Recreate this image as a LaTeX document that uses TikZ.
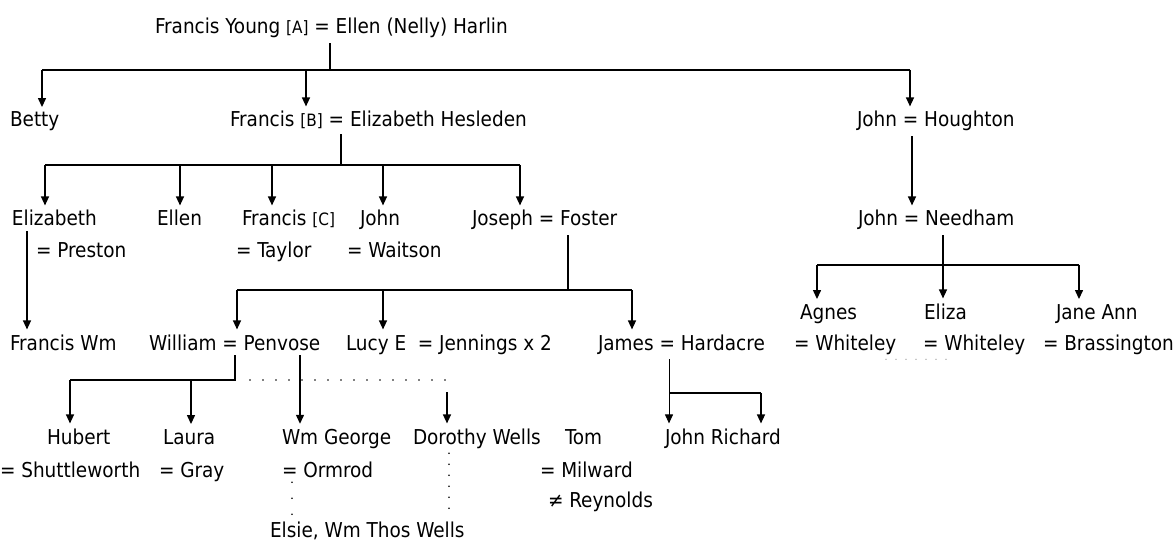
\documentclass[tikz,border=0pt]{standalone}
\usepackage{fontspec}
\setmainfont{DejaVu Sans Condensed}
\usetikzlibrary{arrows.meta}

\newcommand{\gen}[1]{{\fontsize{17}{17}\selectfont[#1]}}

\tikzset{
  person/.style={inner sep=0pt, outer xsep=0pt, outer ysep=5pt, anchor=base west,
    font=\fontsize{20.5}{22}\selectfont},
  stem/.style={line width=1.3pt},
  kid/.style={line width=1.3pt, -{Triangle[width=8pt,length=9pt]}},
  dotline/.style={line width=1.8pt, line cap=round, dash pattern=on 0pt off 13pt},
}

\begin{document}
\begin{tikzpicture}[x=1pt,y=-1pt]
    \useasboundingbox (0,0) rectangle (1173,540);

    % generation 1
    \node[person] (fy) at (155,34) {Francis Young \gen{A} = Ellen (Nelly) Harlin};

    % generation 2
    \node[person] (betty) at (10,127) {Betty};
    \node[person] (fb) at (230,127) {Francis \gen{B} = Elizabeth Hesleden};
    \node[person] (jh) at (857,127) {John = Houghton};

    % generation 3
    \node[person] (eliz) at (12,226) {Elizabeth};
    \node[person] (ellen) at (157,226) {Ellen};
    \node[person] (fc) at (242,226) {Francis \gen{C}};
    \node[person] (john) at (360,226) {John};
    \node[person] (joseph) at (472,226) {Joseph = Foster};
    \node[person] (jn) at (858,226) {John = Needham};
    \node[person] (preston) at (36,258) {= Preston};
    \node[person] (taylor) at (236,258) {= Taylor};
    \node[person] (waitson) at (347,258) {= Waitson};

    % generation 4
    \node[person] (fwm) at (10,350) {Francis Wm};
    \node[person] (william) at (149,350) {William = Penvose};
    \node[person] (lucy) at (346,350) {Lucy E~ = Jennings x 2};
    \node[person] (james) at (598,350) {James = Hardacre};
    \node[person] (agnes) at (800,319) {Agnes};
    \node[person] (eliza) at (924,319) {Eliza};
    \node[person] (janeann) at (1056,319) {Jane Ann};
    \node[person] (wh1) at (794,350) {= Whiteley};
    \node[person] (wh2) at (923,350) {= Whiteley};
    \node[person] (bras) at (1043,350) {= Brassington};

    % generation 5
    \node[person] (hubert) at (47,444) {Hubert};
    \node[person] (laura) at (163,444) {Laura};
    \node[person] (wmg) at (282,444) {Wm George};
    \node[person] (dorothy) at (413,444) {Dorothy Wells};
    \node[person] (tom) at (565,444) {Tom};
    \node[person] (jr) at (665,444) {John Richard};
    \node[person] (shuttle) at (0,477) {= Shuttleworth};
    \node[person] (gray) at (159,477) {= Gray};
    \node[person] (ormrod) at (282,477) {= Ormrod};
    \node[person] (milward) at (540,477) {= Milward};
    \node[person] (reyn) at (548,507) {≠ Reynolds};
    \node[person] (elsie) at (270,537) {Elsie, Wm Thos Wells};

    % Young family lines
    \coordinate (barA) at (330,70);
    \draw[stem] (fy.south -| barA) -- (barA);
    \draw[stem] (barA -| 42,0) -- (barA -| 910,0);
    \draw[kid] (barA -| 42,0) -- (betty.north -| 42,0);
    \draw[kid] (barA -| 306,0) -- (fb.north -| 306,0);
    \draw[kid] (barA -| 910,0) -- (jh.north -| 910,0);

    \coordinate (barB) at (341,165);
    \draw[stem] (fb.south -| barB) -- (barB);
    \draw[stem] (barB -| 45,0) -- (barB -| 520,0);
    \foreach \x/\k in {45/eliz,180/ellen,272/fc,383/john,520/joseph}
      \draw[kid] (barB -| \x,0) -- (\k.north -| \x,0);

    \draw[kid] (eliz.south -| 27,0) -- (fwm.north -| 27,0);

    \coordinate (barJ) at (568,290);
    \draw[stem] (joseph.south -| barJ) -- (barJ);
    \draw[stem] (barJ -| 237,0) -- (barJ -| 632,0);
    \foreach \x/\k in {237/william,383/lucy,632/james}
      \draw[kid] (barJ -| \x,0) -- (\k.north -| \x,0);

    \draw[kid] (jh.south -| 912,0) -- (jn.north -| 912,0);

    \coordinate (barN) at (943,265);
    \draw[stem] (barN -| 817,0) -- (barN -| 1079,0);
    \draw[kid] (jn.south -| barN) -- (eliza.north -| barN);
    \draw[kid] (barN -| 817,0) -- (agnes.north -| 817,0);
    \draw[kid] (barN -| 1079,0) -- (janeann.north -| 1079,0);
    \draw[line width=1.2pt, line cap=round, dash pattern=on 0pt off 10pt, gray]
      (wh1.south -| 886,0) -- (wh1.south -| 948,0);

    \coordinate (barW) at (235,380);
    \draw[stem] (william.south -| barW) -- (barW) -- (barW -| 70,0);
    \draw[kid] (barW -| 70,0) -- (hubert.north -| 70,0);
    \draw[kid] (barW -| 191,0) -- (laura.north -| 191,0);
    \draw[dotline] (barW -| 250,0) -- (barW -| 446,0);
    \draw[kid] (william.south -| 300,0) -- (wmg.north -| 300,0);
    \draw[kid] (447,392) -- (dorothy.north -| 447,0);
    \draw[dotline, dash pattern=on 0pt off 16pt] (ormrod.south -| 292,0) -- (elsie.north -| 292,0);
    \draw[dotline, dash pattern=on 0pt off 11pt] (dorothy.south -| 449,0) -- (elsie.north -| 449,0);

    \coordinate (barH) at (761,393);
    \draw[kid, line width=1pt] (james.south -| 669,0) -- (jr.north -| 669,0);
    \draw[stem] (barH -| 669,0) -- (barH);
    \draw[kid] (barH) -- (jr.north -| barH);
\end{tikzpicture}
\end{document}
